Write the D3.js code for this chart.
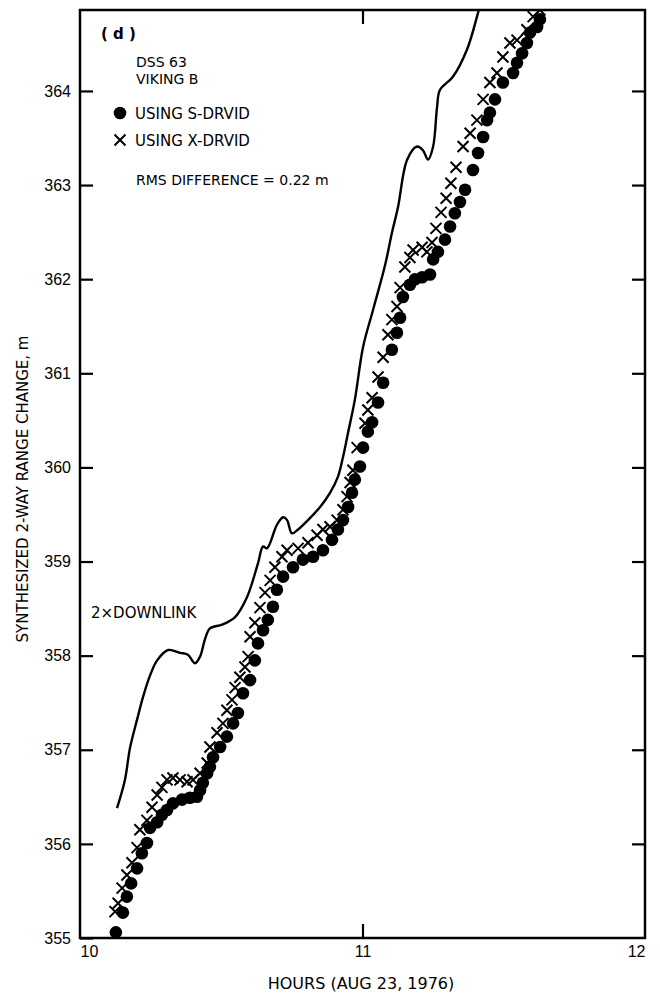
<!DOCTYPE html>
<html><head><meta charset="utf-8">
<script src="https://cdn.jsdelivr.net/npm/d3@7"></script>
<style>
html,body{margin:0;padding:0;background:#fff;}
svg text{font-family:"DejaVu Sans",sans-serif;fill:#000;}
</style></head>
<body><svg id="chart" width="660" height="1000"></svg>
<script>
// ---- data (hours, meters) ----
const sHours = [10.127,10.152,10.166,10.181,10.202,10.219,10.237,10.248,10.273,10.290,10.308,10.329,10.361,10.389,10.414,10.425,10.435,10.450,10.460,10.471,10.496,10.520,10.542,10.559,10.577,10.602,10.619,10.630,10.648,10.665,10.683,10.697,10.719,10.754,10.789,10.825,10.860,10.892,10.913,10.931,10.949,10.963,10.973,10.991,11.002,11.019,11.034,11.055,11.073,11.104,11.122,11.133,11.143,11.168,11.186,11.211,11.239,11.250,11.267,11.292,11.310,11.327,11.345,11.363,11.391,11.409,11.427,11.441,11.451,11.469,11.497,11.533,11.547,11.565,11.582,11.593,11.618,11.628];
const sRange = [355.06,355.27,355.44,355.58,355.74,355.90,356.01,356.17,356.23,356.31,356.36,356.43,356.47,356.49,356.50,356.57,356.65,356.75,356.82,356.92,357.03,357.14,357.28,357.39,357.60,357.74,357.95,358.13,358.27,358.38,358.52,358.70,358.84,358.94,359.02,359.05,359.12,359.23,359.34,359.44,359.58,359.73,359.87,360.01,360.21,360.38,360.48,360.69,360.90,361.25,361.43,361.59,361.81,361.94,362.00,362.02,362.05,362.21,362.29,362.42,362.56,362.70,362.82,362.95,363.16,363.34,363.51,363.69,363.77,363.91,364.09,364.19,364.30,364.40,364.51,364.62,364.68,364.76];

const xHours = [10.124,10.135,10.149,10.166,10.184,10.202,10.212,10.237,10.255,10.273,10.290,10.308,10.329,10.354,10.379,10.400,10.425,10.450,10.460,10.485,10.506,10.520,10.538,10.549,10.566,10.584,10.595,10.602,10.619,10.637,10.655,10.673,10.690,10.715,10.733,10.772,10.807,10.839,10.860,10.885,10.910,10.931,10.945,10.956,10.966,10.981,11.009,11.019,11.034,11.055,11.073,11.090,11.104,11.122,11.133,11.150,11.168,11.179,11.211,11.228,11.246,11.260,11.278,11.296,11.313,11.331,11.356,11.381,11.405,11.427,11.451,11.476,11.497,11.522,11.547,11.582,11.604,11.628];
const xRange = [355.28,355.37,355.53,355.67,355.80,355.96,356.15,356.25,356.39,356.52,356.60,356.68,356.70,356.68,356.66,356.68,356.75,356.86,357.03,357.18,357.28,357.42,357.53,357.66,357.77,357.88,357.99,358.20,358.35,358.51,358.67,358.80,358.94,359.05,359.12,359.14,359.20,359.28,359.34,359.37,359.44,359.55,359.69,359.84,359.97,360.21,360.47,360.61,360.74,360.96,361.17,361.41,361.57,361.71,361.91,362.13,362.23,362.31,362.34,362.29,362.39,362.54,362.71,362.86,363.02,363.19,363.41,363.55,363.69,363.91,364.09,364.19,364.36,364.51,364.54,364.65,364.79,364.86];

const dlHours = [10.131,10.159,10.177,10.202,10.223,10.248,10.273,10.312,10.354,10.382,10.407,10.425,10.442,10.460,10.503,10.549,10.591,10.630,10.648,10.662,10.697,10.719,10.733,10.750,10.772,10.807,10.850,10.885,10.913,10.931,10.949,10.973,11.002,11.037,11.080,11.104,11.126,11.158,11.193,11.214,11.232,11.250,11.264,11.274,11.320,11.370,11.409,11.425];
const dlRange = [356.38,356.68,357.02,357.32,357.56,357.79,357.95,358.06,358.03,358.01,357.92,357.99,358.17,358.29,358.33,358.41,358.62,358.98,359.16,359.14,359.39,359.47,359.44,359.30,359.34,359.44,359.58,359.73,359.90,360.11,360.37,360.72,361.28,361.67,362.15,362.49,362.77,363.27,363.41,363.37,363.27,363.41,363.83,364.01,364.15,364.44,364.83,365.00];

const xTicks = [10, 11, 12];
const yTicks = [355, 356, 357, 358, 359, 360, 361, 362, 363, 364];
const xTitle = "HOURS (AUG 23, 1976)";
const yTitle = "SYNTHESIZED 2-WAY RANGE CHANGE, m";
const legendS = "USING S-DRVID";
const legendX = "USING X-DRVID";

// ---- layout ----
const L = 80, R = 645, T = 10, B = 938;
const svg = d3.select("#chart");
const x = d3.scaleLinear().domain([10, 12]).range([L, R]);
const y = d3.scaleLinear().domain([355, 364.86]).range([B, T]);

svg.append("defs").append("clipPath").attr("id","clip")
  .append("rect").attr("x",L).attr("y",T).attr("width",R-L).attr("height",B-T);

// axes
const tickFont = '"Liberation Sans", sans-serif';
const gl = svg.append("g").attr("transform",`translate(${L},0)`)
  .call(d3.axisLeft(y).tickValues(yTicks).tickSize(-13).tickPadding(9).tickFormat(d3.format("d")));
const gr = svg.append("g").attr("transform",`translate(${R},0)`)
  .call(d3.axisRight(y).tickValues(yTicks.slice(1)).tickSize(-13).tickFormat(""));
const gb = svg.append("g").attr("transform",`translate(0,${B})`)
  .call(d3.axisBottom(x).tickValues(xTicks).tickSize(-14).tickPadding(8).tickFormat(d3.format("d")));
const gt = svg.append("g").attr("transform",`translate(0,${T})`)
  .call(d3.axisTop(x).tickValues([11]).tickSize(-14).tickFormat(""));
[gl,gr,gb,gt].forEach(g=>{
  g.select(".domain").remove();
  g.selectAll(".tick line").attr("stroke","#000").attr("stroke-width",2.2);
  g.selectAll("text").style("font-family",tickFont).style("font-size","16px").attr("fill","#000");
});
gb.selectAll(".tick text").attr("text-anchor",(d)=> d===10?"start":(d===12?"end":"middle"));
gb.selectAll(".tick line").filter(d=>d!==11).remove();

// frame
svg.append("rect").attr("x",L).attr("y",T).attr("width",R-L).attr("height",B-T)
  .attr("fill","none").attr("stroke","#000").attr("stroke-width",2.5);

const plot = svg.append("g").attr("clip-path","url(#clip)");

// downlink line
const dl = dlHours.map((h,i)=>[h, dlRange[i]]);
plot.append("path").datum(dl)
  .attr("d", d3.line().x(d=>x(d[0])).y(d=>y(d[1])).curve(d3.curveCatmullRom.alpha(0.5)))
  .attr("fill","none").attr("stroke","#000").attr("stroke-width",2.4);

// S-DRVID dots
const sd = sHours.map((h,i)=>[h, sRange[i]]);
plot.selectAll("circle.s").data(sd).join("circle").attr("class","s")
  .attr("cx",d=>x(d[0])).attr("cy",d=>y(d[1])).attr("r",6.3).attr("fill","#000");

// X-DRVID crosses
const cr = 5.5;
const xd = xHours.map((h,i)=>[h, xRange[i]]);
plot.selectAll("path.x").data(xd).join("path").attr("class","x")
  .attr("d",d=>{const cx=x(d[0]), cy=y(d[1]);
    return `M${cx-cr},${cy-cr}L${cx+cr},${cy+cr}M${cx-cr},${cy+cr}L${cx+cr},${cy-cr}`;})
  .attr("stroke","#000").attr("stroke-width",2).attr("fill","none");

// annotations / legend
const fs = "15px";
svg.append("text").attr("x",101).attr("y",39).style("font-size",fs).style("font-weight","bold").text("( d )");
svg.append("text").attr("x",136).attr("y",67).style("font-size","14px").text("DSS 63");
svg.append("text").attr("x",136).attr("y",84).style("font-size","14px").text("VIKING B");
svg.append("circle").attr("cx",120).attr("cy",113).attr("r",6.3).attr("fill","#000");
svg.append("text").attr("x",135).attr("y",119).style("font-size",fs).text(legendS);
svg.append("path").attr("d",`M${120-cr},${140-cr}L${120+cr},${140+cr}M${120-cr},${140+cr}L${120+cr},${140-cr}`)
  .attr("stroke","#000").attr("stroke-width",2);
svg.append("text").attr("x",135).attr("y",146).style("font-size",fs).text(legendX);
svg.append("text").attr("x",136).attr("y",185).style("font-size","14px").text("RMS DIFFERENCE = 0.22 m");
svg.append("text").attr("x",91).attr("y",618).style("font-size",fs).text("2\u00D7DOWNLINK");

// axis titles
svg.append("text").attr("x",361).attr("y",989).attr("text-anchor","middle")
  .style("font-size","16px").text(xTitle);
svg.append("text").attr("transform",`translate(28,489) rotate(-90)`).attr("text-anchor","middle")
  .style("font-size","15px").text(yTitle);
</script></body></html>
